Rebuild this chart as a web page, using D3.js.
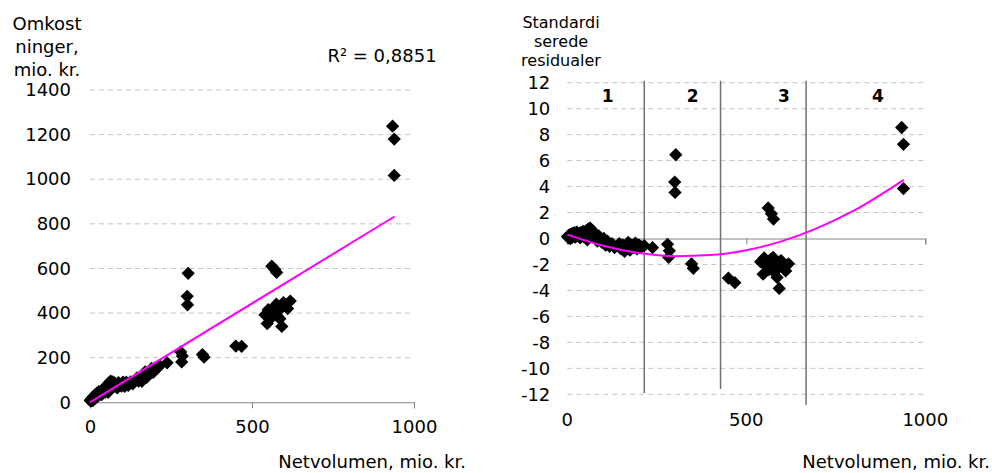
<!DOCTYPE html>
<html>
<head>
<meta charset="utf-8">
<script src="https://cdnjs.cloudflare.com/ajax/libs/d3/7.8.5/d3.min.js"></script>
<style>
  body { margin: 0; background: #fff; }
  svg { display: block; font-family: "DejaVu Sans", Verdana, sans-serif; }
</style>
</head>
<body>
<div id="graf"></div>
<script>
// I. Data

// netvolumen, mio. kr. (fælles for begge paneler)
const netvolumen = [
  1, 2, 3, 4, 5, 6, 8, 9, 10, 12, 14, 16, 18, 20, 22, 25, 27, 30, 33, 36, 38, 41, 44, 47, 50,
  53, 56, 59, 62, 64, 67, 70, 73, 76, 80, 84, 88, 92, 97, 102, 107, 112, 118, 125, 132,
  145, 150, 155, 160, 165, 170, 175, 180, 185, 190, 195, 200, 207, 215, 238,
  280, 285, 283, 303, 300, 301, 347, 352, 450, 468,
  540, 547, 550, 555, 560, 563, 568, 572, 575, 578, 582, 586, 592, 590, 597, 610, 618,
  561, 570, 576,
  934, 939, 939
]

// omkostninger, mio. kr.
const omkostninger = [
  8, 7, 12, 6, 16, 10, 22, 8, 19, 27, 17, 33, 26, 39, 24, 37, 48, 36, 48, 34, 55, 48, 65, 46, 64,
  76, 45, 88, 79, 95, 74, 91, 70, 87, 73, 65, 88, 77, 72, 90, 71, 90, 76, 92, 83,
  109, 95, 113, 94, 117, 136, 112, 136, 130, 152, 134, 153, 152, 164, 177,
  226, 207, 181, 578, 475, 437, 214, 202, 252, 251,
  392, 353, 415, 391, 405, 384, 426, 401, 440, 387, 424, 375, 340, 422, 447, 420, 454,
  610, 596, 582,
  1238, 1180, 1017
]

// standardiserede residualer
const residualer = [
  0.15, 0.1, 0.2, 0.05, 0.25, 0.1, 0.3, 0.0, 0.2, 0.35, 0.1, 0.4, 0.2, 0.45, 0.1, 0.3, 0.5, 0.2, 0.4, 0.05, 0.45, 0.25, 0.55, 0.1, 0.4,
  0.6, -0.1, 0.75, 0.5, 0.8, 0.3, 0.6, 0.1, 0.4, 0.05, -0.2, 0.2, -0.1, -0.3, 0.0, -0.5, -0.2, -0.6, -0.4, -0.7,
  -0.4, -0.8, -0.5, -1.0, -0.6, -0.3, -0.9, -0.5, -0.7, -0.35, -0.8, -0.5, -0.65, -0.55, -0.7,
  -0.45, -0.95, -1.45, 6.45, 4.35, 3.55, -1.95, -2.3, -3.05, -3.4,
  -1.8, -2.75, -1.5, -2.1, -1.9, -2.4, -1.6, -2.2, -1.45, -2.6, -1.9, -3.0, -3.85, -2.1, -1.7, -2.5, -1.95,
  2.35, 1.9, 1.5,
  8.55, 7.25, 3.85
]

// tendenslinjer
const trendVenstreX = [0, 940]
const trendVenstreY = [0, 833]
const trendHoejreX = [0, 100, 200, 300, 400, 500, 600, 700, 800, 940]
const trendHoejreY = [0.3, -0.56, -1.12, -1.36, -1.28, -0.9, -0.2, 0.82, 2.14, 4.52]

// akser
const volTicks = [0, 500, 1000]
const omkTicks = [0, 200, 400, 600, 800, 1000, 1200, 1400]
const resTicks = [-12, -10, -8, -6, -4, -2, 0, 2, 4, 6, 8, 10, 12]

// områder i residualplottet
const skilleX = [215, 428, 667]
const skilleBund = [-11.9, -11.6, -12.8]
const omraadeNavne = ['1', '2', '3', '4']
const omraadeX = [113, 350, 605, 868]

const r2Tekst = 'R² = 0,8851'


// II. Konfiguration

const ancho_total = 992
const alto_total = 473

const svg = d3.select('#graf').append('svg')
    .attr('width', ancho_total)
    .attr('height', alto_total)

const xL = d3.scaleLinear().domain([0, 1000]).range([90, 414])
const yL = d3.scaleLinear().domain([0, 1400]).range([402.3, 90])
const xR = d3.scaleLinear().domain([0, 1000]).range([567.3, 925.3])
const yR = d3.scaleLinear().domain([-12, 12]).range([394.3, 82.7])

const punkter = netvolumen.map((v, i) => ({ v: v, c: omkostninger[i], r: residualer[i] }))

const diamant = d3.symbol().type(d3.symbolSquare).size(88)
const tal = d => String(d)

const gridFarve = '#c4c4c4'
const aksFarve = '#858585'


// III. Venstre panel

const gL = svg.append('g')

gL.selectAll('line.grid')
    .data(omkTicks.filter(d => d !== 0))
    .enter().append('line')
    .attr('class', 'grid')
    .attr('x1', xL(0)).attr('x2', xL(1000))
    .attr('y1', d => yL(d)).attr('y2', d => yL(d))
    .attr('stroke', gridFarve)
    .attr('stroke-dasharray', '5,4')

const yAxisL = gL.append('g')
    .attr('transform', `translate(${ xL(0) }, 0)`)
    .call(d3.axisLeft(yL).tickValues(omkTicks).tickFormat(tal).tickSize(0).tickPadding(19))
yAxisL.select('.domain').remove()

const xAxisL = gL.append('g')
    .attr('transform', `translate(0, ${ yL(0) })`)
    .call(d3.axisBottom(xL).tickValues(volTicks).tickFormat(tal).tickSizeOuter(0).tickSize(6).tickPadding(12))

gL.selectAll('path.pkt')
    .data(punkter)
    .enter().append('path')
    .attr('class', 'pkt')
    .attr('d', diamant)
    .attr('transform', d => `translate(${ xL(d.v) }, ${ yL(d.c) }) rotate(45)`)
    .attr('fill', '#000')

gL.append('path')
    .datum(trendVenstreX.map((x, i) => [x, trendVenstreY[i]]))
    .attr('d', d3.line().x(d => xL(d[0])).y(d => yL(d[1])))
    .attr('fill', 'none')
    .attr('stroke', '#ff00ff')
    .attr('stroke-width', 2)

gL.append('text')
    .attr('x', 382).attr('y', 62)
    .attr('text-anchor', 'middle')
    .attr('font-size', 18)
    .text(r2Tekst)

gL.selectAll('text.ytitel')
    .data(['Omkost', 'ninger,', 'mio. kr.'])
    .enter().append('text')
    .attr('class', 'ytitel')
    .attr('x', 47)
    .attr('y', (d, i) => 30 + i * 23)
    .attr('text-anchor', 'middle')
    .attr('font-size', 18)
    .text(d => d)

gL.append('text')
    .attr('x', 466).attr('y', 468)
    .attr('text-anchor', 'end')
    .attr('font-size', 18)
    .text('Netvolumen, mio. kr.')


// IV. Højre panel

const gR = svg.append('g')

gR.selectAll('line.grid')
    .data(resTicks.filter(d => d !== 0))
    .enter().append('line')
    .attr('class', 'grid')
    .attr('x1', xR(0)).attr('x2', xR(995))
    .attr('y1', d => yR(d)).attr('y2', d => yR(d))
    .attr('stroke', gridFarve)
    .attr('stroke-dasharray', '5,4')

const yAxisR = gR.append('g')
    .attr('transform', `translate(${ xR(0) }, 0)`)
    .call(d3.axisLeft(yR).tickValues(resTicks).tickFormat(tal).tickSize(0).tickPadding(17))
yAxisR.select('.domain').remove()

const xAxisR = gR.append('g')
    .attr('transform', `translate(0, ${ yR(0) })`)
    .call(d3.axisBottom(xR).tickValues(volTicks).tickSizeOuter(0).tickSize(6).tickFormat(''))

gR.selectAll('text.xlab')
    .data(volTicks)
    .enter().append('text')
    .attr('class', 'xlab')
    .attr('x', d => xR(d))
    .attr('y', 426)
    .attr('text-anchor', 'middle')
    .attr('font-size', 18)
    .text(tal)

gR.selectAll('line.skille')
    .data(skilleX)
    .enter().append('line')
    .attr('class', 'skille')
    .attr('x1', d => xR(d)).attr('x2', d => xR(d))
    .attr('y1', yR(12.15))
    .attr('y2', (d, i) => yR(skilleBund[i]))
    .attr('stroke', '#707070')
    .attr('stroke-width', 1.5)

gR.selectAll('text.omr')
    .data(omraadeNavne)
    .enter().append('text')
    .attr('class', 'omr')
    .attr('x', (d, i) => xR(omraadeX[i]))
    .attr('y', yR(11) + 6)
    .attr('text-anchor', 'middle')
    .attr('font-size', 17)
    .attr('font-weight', 'bold')
    .text(d => d)

gR.selectAll('path.pkt')
    .data(punkter)
    .enter().append('path')
    .attr('class', 'pkt')
    .attr('d', diamant)
    .attr('transform', d => `translate(${ xR(d.v) }, ${ yR(d.r) }) rotate(45)`)
    .attr('fill', '#000')

gR.append('path')
    .datum(trendHoejreX.map((x, i) => [x, trendHoejreY[i]]))
    .attr('d', d3.line().curve(d3.curveMonotoneX).x(d => xR(d[0])).y(d => yR(d[1])))
    .attr('fill', 'none')
    .attr('stroke', '#ff00ff')
    .attr('stroke-width', 2)

gR.selectAll('text.ytitel')
    .data(['Standardi', 'serede', 'residualer'])
    .enter().append('text')
    .attr('class', 'ytitel')
    .attr('x', 561)
    .attr('y', (d, i) => 28 + i * 19)
    .attr('text-anchor', 'middle')
    .attr('font-size', 16)
    .text(d => d)

gR.append('text')
    .attr('x', 990).attr('y', 468)
    .attr('text-anchor', 'end')
    .attr('font-size', 18)
    .text('Netvolumen, mio. kr.')


// V. Stil for akser
svg.selectAll('.tick text')
    .attr('font-size', 18)
    .attr('font-family', '"DejaVu Sans", Verdana, sans-serif')
    .attr('fill', '#000')
svg.selectAll('.tick line, .domain')
    .attr('stroke', aksFarve)
</script>
</body>
</html>
